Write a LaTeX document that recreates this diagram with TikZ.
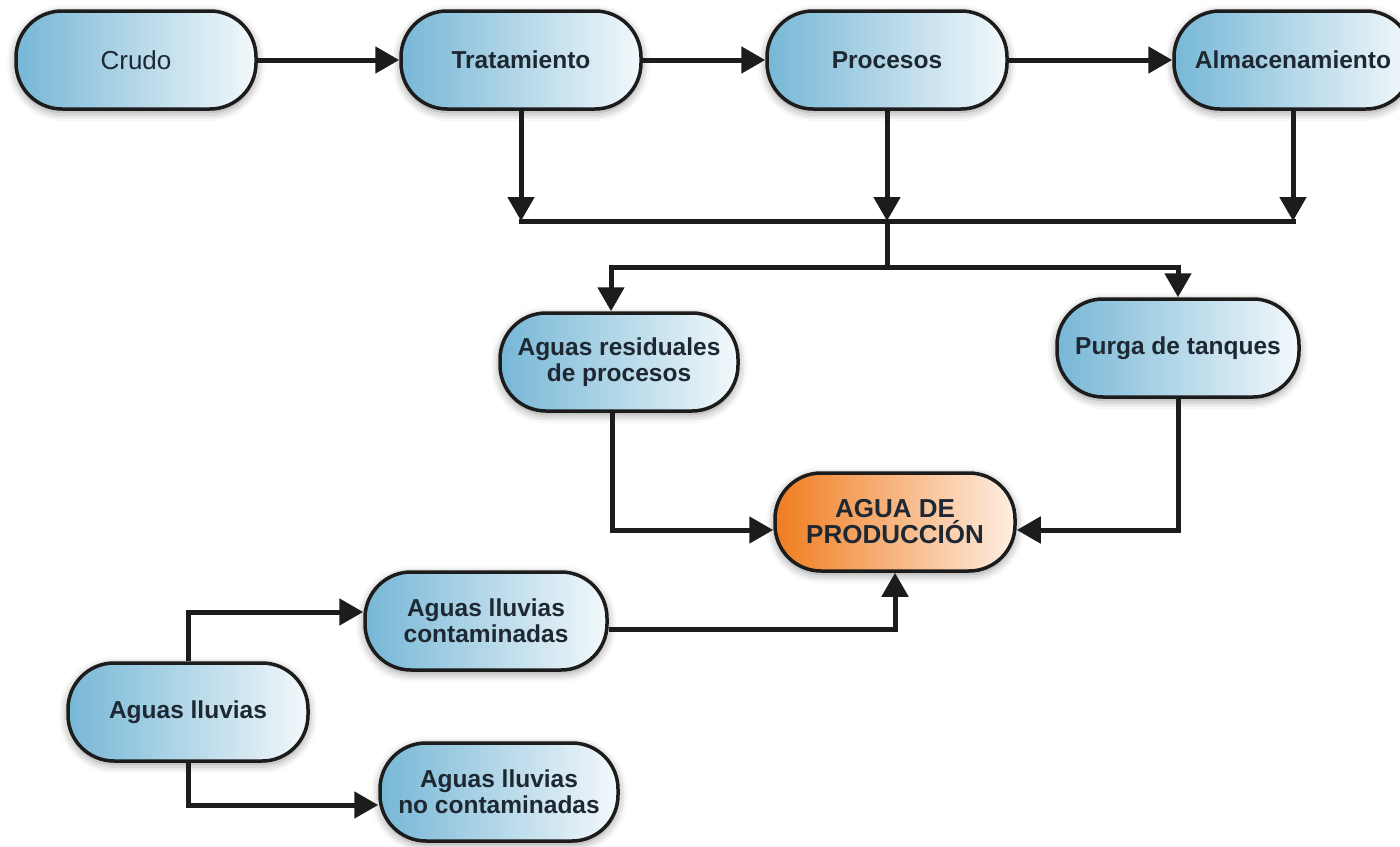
\documentclass[tikz,border=0pt]{standalone}
\usepackage{fontspec}
\setmainfont{Liberation Sans}
\usetikzlibrary{arrows.meta,shadows.blur}
\definecolor{bl}{RGB}{118,183,214}
\definecolor{wh}{RGB}{243,248,251}
\definecolor{orng}{RGB}{240,125,32}
\definecolor{orw}{RGB}{254,238,226}
\definecolor{ink}{RGB}{28,28,28}
\definecolor{txt}{RGB}{30,40,50}
\begin{document}
\begin{tikzpicture}[x=1pt,y=-1pt,
  box/.style={draw=ink, line width=3.5pt, rounded corners=46pt,
    minimum width=240pt, minimum height=98pt, inner sep=4pt,
    left color=bl, right color=wh, align=center,
    font=\fontsize{24.5}{26}\selectfont\bfseries, text=txt,
    blur shadow={shadow xshift=0pt, shadow yshift=-3pt,
      shadow blur radius=9pt, shadow opacity=45}},
  plainbox/.style={box, font=\fontsize{26}{26}\selectfont\mdseries},
  goalbox/.style={box, left color=orng, right color=orw,
    font=\fontsize{26}{26}\selectfont\bfseries},
  ln/.style={draw=ink, line width=5pt, line cap=rect},
  arr/.style={draw=ink, line width=5pt, -{Triangle[length=24pt,width=26pt]}}]
\useasboundingbox (0,0) rectangle (1400,846);

% nodes
\node[plainbox] (crudo) at (136,60) {Crudo};
\node[box] (trat) at (521,60) {Tratamiento};
\node[box] (proc) at (887,60) {Procesos};
\node[box, minimum width=238pt] (alm) at (1293,60) {Almacenamiento};
\node[box, minimum width=238pt] (resid) at (619,362) {Aguas residuales\\de procesos};
\node[box, minimum width=242pt] (purga) at (1178,348) {Purga de tanques};
\node[goalbox] (agua) at (895,522) {AGUA DE\\PRODUCCIÓN};
\node[box, minimum width=242pt] (cont) at (486,621) {Aguas lluvias\\contaminadas};
\node[box] (lluv) at (188,712) {Aguas lluvias};
\node[box, minimum width=238pt] (nocont) at (499,792) {Aguas lluvias\\no contaminadas};

\coordinate (bus) at (0,221);
\coordinate (split) at (887,267);

% top row
\draw[arr] (crudo) -- (trat);
\draw[arr] (trat) -- (proc);
\draw[arr] (proc) -- (alm);

% collection bus
\draw[arr] (trat.south) -- (trat.south |- bus);
\draw[arr] (proc.south) -- (proc.south |- bus);
\draw[arr] (alm.south) -- (alm.south |- bus);
\draw[ln] (trat.south |- bus) -- (alm.south |- bus);
\draw[ln] (proc.south |- bus) -- (split);
\draw[arr] (split) -| ([xshift=-8pt]resid.north);
\draw[arr] (split) -| (purga.north);

% into agua de produccion
\draw[arr] ([xshift=-7pt]resid.south) |- ([yshift=-8pt]agua.west);
\draw[arr] (purga.south) |- ([yshift=-8pt]agua.east);
\draw[arr] ([yshift=-8pt]cont.east) -| (agua.south);

% rain water
\draw[arr] (lluv.north) |- ([yshift=9pt]cont.west);
\draw[arr] (lluv.south) |- ([yshift=-13pt]nocont.west);
\end{tikzpicture}
\end{document}
